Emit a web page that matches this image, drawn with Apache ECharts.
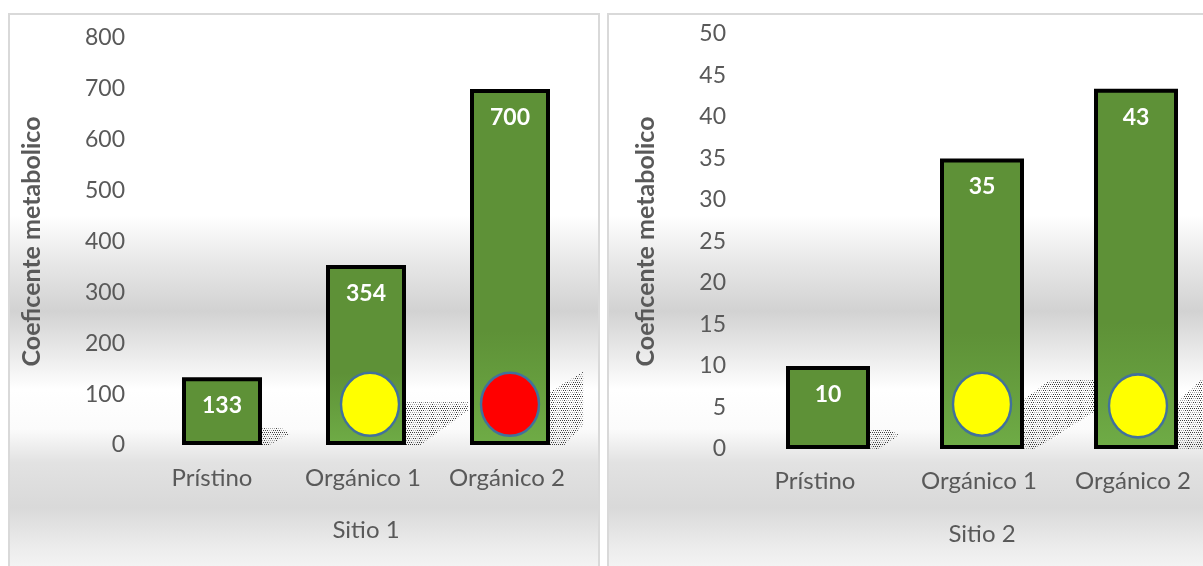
<!DOCTYPE html>
<html>
<head>
<meta charset="utf-8">
<style>html,body{margin:0;padding:0;background:#fff;overflow:hidden}#c{width:1203px;height:566px}</style>
<script src="https://cdn.jsdelivr.net/npm/echarts@6/dist/echarts.min.js"></script>
</head>
<body>
<div id="c"></div>
<script>
const categories = ['Prístino', 'Orgánico 1', 'Orgánico 2'];
const yTitle = 'Coeficente metabolico';
const site1Name = 'Sitio 1';
const site2Name = 'Sitio 2';
const site1Values = [133, 354, 700];
const site2Values = [10, 35, 43.4];
const site1Ticks = [0, 800, 100];
const site2Ticks = [0, 50, 5];
const site1Dots = [null, 80, 80];
const site2Dots = [null, 5.4, 5.2];
const site1DotKinds = [null, 'yellow', 'red'];
const site2DotKinds = [null, 'yellow', 'yellow'];

const FONT = 'Lato, "Open Sans", sans-serif';
const chart = echarts.init(document.getElementById('c'));

// stippled texture of the bar shadows
function stipple() {
  const c = document.createElement('canvas');
  c.width = 12; c.height = 12;
  const g = c.getContext('2d');
  for (let y = 0; y < 12; y += 2) for (let x = (y % 4 ? 1 : 0); x < 12; x += 2) {
    const ring = Math.abs(Math.hypot(x - 6, y - 6) - 3) < 1.6;
    g.fillStyle = ring ? 'rgba(150,150,150,0.85)' : 'rgba(30,30,30,0.85)';
    g.fillRect(x, y, 1, 1);
  }
  return c;
}
const pattern = stipple();

// shadow outlines: [fraction of the band right of the bar, fraction of the axis height above zero]
const shapes1 = [
  [[0, 0], [0, .042], [.13, .044], [.19, .027], [.05, 0]],
  [[0, 0], [0, .105], [.43, .105], [.43, .085], [.10, 0]],
  [[0, 0], [0, .13], [.23, .18], [.23, .05], [.10, 0]]
];
const shapes2 = [
  [[0, 0], [0, .047], [.12, .047], [.19, .034], [.06, 0]],
  [[0, 0], [0, .12], [.17, .166], [.455, .166], [.455, .09], [.07, 0]],
  [[0, 0], [0, .115], [.16, .17], [.16, 0]]
];

function barSeries(values, gi, barWidth, lighten) {
  return {
    type: 'bar', xAxisIndex: gi, yAxisIndex: gi, barWidth, z: 3,
    data: values.map((v, i) => ({
      value: v,
      itemStyle: {
        borderColor: '#000', borderWidth: 4,
        color: lighten[i] === null ? '#5e9137' : {
          type: 'linear', x: 0, y: 0, x2: 0, y2: 1,
          colorStops: [
            {offset: 0, color: '#5e9137'},
            {offset: lighten[i], color: '#5e9137'},
            {offset: 1, color: '#6fac46'}
          ]
        }
      }
    })),
    label: {
      show: true, position: 'insideTop', distance: 17, color: '#fff',
      fontFamily: FONT, fontWeight: 'bold', fontSize: 23,
      formatter: p => String(Math.round(p.value))
    }
  };
}
function dotSeries(values, kinds, gi, offsets) {
  return {
    type: 'scatter', xAxisIndex: gi, yAxisIndex: gi, z: 5, silent: true,
    symbol: 'circle', symbolSize: [58, 63],
    data: values.map((v, i) => v === null ? null : ({
      value: [i, v], symbolOffset: [offsets[i], 0],
      itemStyle: {color: kinds[i] === 'red' ? '#ff0000' : '#ffff00', borderColor: '#41719c', borderWidth: 2.5, opacity: 1}
    })).filter(Boolean)
  };
}
function shadowSeries(values, gi, shapes, barWidth) {
  return {
    type: 'custom', xAxisIndex: gi, yAxisIndex: gi, z: 2, silent: true,
    data: values.map((v, i) => [i, v]),
    renderItem(params, api) {
      const i = api.value(0);
      const base = api.coord([i, 0]);
      const band = api.size([1, 0])[0];
      const cs = params.coordSys;
      const x0 = base[0] + barWidth / 2;
      const pts = shapes[i].map(p => [x0 + p[0] * band, base[1] - p[1] * cs.height]);
      return {type: 'polygon', shape: {points: pts}, style: {fill: {image: pattern, repeat: 'repeat'}}};
    }
  };
}
function xAxis(gi, name, nameGap, margin) {
  return {
    type: 'category', gridIndex: gi, data: categories.map((c, i) => ({
      value: c,
      textStyle: {padding: i === 0 ? (gi === 0 ? [0, 20, 0, 0] : [0, 26, 0, 0]) : [0, 6, 0, 0]}
    })),
    axisLine: {show: false}, axisTick: {show: false}, splitLine: {show: false},
    axisLabel: {color: '#595959', fontFamily: FONT, fontSize: 24, margin, interval: 0},
    name, nameLocation: 'middle', nameGap,
    nameTextStyle: {color: '#595959', fontFamily: FONT, fontSize: 24}
  };
}
function yAxis(gi, ticks, nameGap) {
  return {
    type: 'value', gridIndex: gi, min: ticks[0], max: ticks[1], interval: ticks[2],
    axisLine: {show: false}, axisTick: {show: false}, splitLine: {show: false},
    axisLabel: {color: '#595959', fontFamily: FONT, fontSize: 23, margin: 25},
    name: yTitle, nameLocation: 'middle', nameGap, nameRotate: 90,
    nameTextStyle: {color: '#595959', fontFamily: FONT, fontSize: 25, fontWeight: 'bold'}
  };
}
const panelFill = {
  type: 'linear', x: 0, y: 0, x2: 0, y2: 1,
  colorStops: [
    {offset: 0, color: '#ffffff'}, {offset: .36, color: '#ffffff'},
    {offset: .45, color: '#e6e6e6'}, {offset: .53, color: '#d2d2d2'},
    {offset: .60, color: '#e8e8e8'}, {offset: .67, color: '#ffffff'},
    {offset: .74, color: '#fbfbfb'}, {offset: .80, color: '#e2e2e2'},
    {offset: .88, color: '#d9d9d9'}, {offset: .95, color: '#ececec'},
    {offset: 1, color: '#f6f6f6'}
  ]
};
chart.setOption({
  animation: false,
  backgroundColor: '#fff',
  graphic: [
    {type: 'rect', z: -10, silent: true, shape: {x: 9, y: 14, width: 590, height: 560}, style: {fill: panelFill, stroke: '#d9d9d9', lineWidth: 2}},
    {type: 'rect', z: -10, silent: true, shape: {x: 608, y: 14, width: 610, height: 560}, style: {fill: panelFill, stroke: '#d9d9d9', lineWidth: 2}}
  ],
  grid: [
    {left: 150, top: 38, width: 432, height: 407, outerBoundsMode: 'none'},
    {left: 751, top: 34, width: 462, height: 415, outerBoundsMode: 'none'}
  ],
  xAxis: [xAxis(0, site1Name, 73, 21), xAxis(1, site2Name, 73, 20)],
  yAxis: [yAxis(0, site1Ticks, 106), yAxis(1, site2Ticks, 93)],
  series: [
    shadowSeries(site1Values, 0, shapes1, 80),
    barSeries(site1Values, 0, 80, [null, .6, .68]),
    dotSeries(site1Dots, site1DotKinds, 0, [0, 4, 0]),
    shadowSeries(site2Values, 1, shapes2, 84),
    barSeries(site2Values, 1, 84, [null, .6, .65]),
    dotSeries(site2Dots, site2DotKinds, 1, [0, 0, 2])
  ]
});
</script>
</body>
</html>
